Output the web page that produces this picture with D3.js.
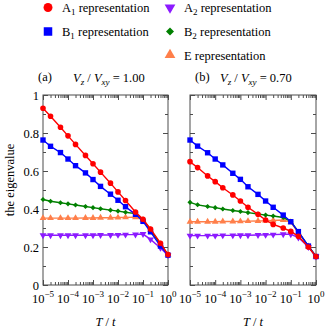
<!DOCTYPE html>
<html>
<head>
<meta charset="utf-8">
<script src="https://cdn.jsdelivr.net/npm/d3@7"></script>
<style>
  body { margin: 0; background: #fff; }
  svg text { font-family: "Liberation Serif", "Times New Roman", serif; }
</style>
</head>
<body>
<svg id="chart" width="327" height="333"></svg>
<script>
// temperatures T/t where the eigenvalues were computed
const temps = [1e-5, 2e-5, 5e-5, 1e-4, 2e-4, 5e-4, 1e-3, 2e-3, 5e-3, 1e-2, 2e-2, 5e-2, 1e-1, 2e-1, 5e-1, 1];

// panel (a), Vz/Vxy = 1.00
const a1A = [0.93, 0.888, 0.83, 0.785, 0.74, 0.682, 0.638, 0.594, 0.536, 0.49, 0.445, 0.384, 0.346, 0.295, 0.22, 0.16];
const b1A = [0.763, 0.73, 0.697, 0.663, 0.628, 0.59, 0.555, 0.519, 0.478, 0.446, 0.412, 0.372, 0.335, 0.28, 0.205, 0.157];
const a2A = [0.262, 0.262, 0.262, 0.262, 0.262, 0.262, 0.262, 0.263, 0.263, 0.264, 0.265, 0.266, 0.268, 0.24, 0.195, 0.156];
const b2A = [0.45, 0.441, 0.433, 0.427, 0.421, 0.413, 0.407, 0.401, 0.394, 0.389, 0.383, 0.376, 0.345, 0.29, 0.215, 0.16];
const eA  = [0.352, 0.352, 0.352, 0.352, 0.352, 0.353, 0.353, 0.354, 0.354, 0.355, 0.356, 0.357, 0.343, 0.29, 0.215, 0.16];

// panel (b), Vz/Vxy = 0.70
const a1B = [0.649, 0.618, 0.574, 0.544, 0.512, 0.474, 0.442, 0.409, 0.372, 0.342, 0.319, 0.3, 0.282, 0.256, 0.2, 0.15];
const b1B = [0.763, 0.731, 0.696, 0.663, 0.632, 0.588, 0.556, 0.517, 0.477, 0.442, 0.409, 0.368, 0.333, 0.281, 0.205, 0.15];
const a2B = [0.26, 0.26, 0.26, 0.26, 0.261, 0.261, 0.262, 0.262, 0.263, 0.264, 0.265, 0.267, 0.267, 0.25, 0.2, 0.15];
const b2B = [0.435, 0.422, 0.413, 0.407, 0.4, 0.392, 0.387, 0.381, 0.374, 0.368, 0.363, 0.355, 0.335, 0.28, 0.205, 0.15];
const eB  = [0.333, 0.333, 0.333, 0.333, 0.334, 0.334, 0.335, 0.336, 0.337, 0.338, 0.34, 0.342, 0.33, 0.275, 0.203, 0.15];

const yTicks = [0, 0.2, 0.4, 0.6, 0.8, 1];
const xDecades = [1e-5, 1e-4, 1e-3, 1e-2, 1e-1, 1];

// series styles (name, subscript, colour, marker)
const seriesDefs = [
    { key: "a1", name: "A", sub: "1", color: "#ff0000", shape: "circle" },
    { key: "b1", name: "B", sub: "1", color: "#0000ff", shape: "square" },
    { key: "a2", name: "A", sub: "2", color: "#8c1aff", shape: "down" },
    { key: "b2", name: "B", sub: "2", color: "#008000", shape: "diamond" },
    { key: "e",  name: "E", sub: "",  color: "#ff7f4a", shape: "up" }
];

const panels = [
    { label: "(a)", ratio: "1.00", x0: 43, x1: 168, data: { a1: a1A, b1: b1A, a2: a2A, b2: b2A, e: eA }, showY: true, labX: 38, ratX: 73 },
    { label: "(b)", ratio: "0.70", x0: 190, x1: 316, data: { a1: a1B, b1: b1B, a2: a2B, b2: b2B, e: eB }, showY: false, labX: 195, ratX: 220 }
];

const svg = d3.select("#chart");
const plotTop = 95, plotBottom = 285;
const frameColor = "#4d4d4d";

function markerPath(shape, big) {
    const k = big ? 2.5 : 1;
    switch (shape) {
        case "circle": return d3.symbol(d3.symbolCircle, 25 * k)();
        case "square": return d3.symbol(d3.symbolSquare, 29 * k)();
        case "diamond": return d3.symbol(d3.symbolSquare, 13 * k)();
        default: return d3.symbol(d3.symbolTriangle, 20 * k)();
    }
}
function markerRotate(shape) {
    if (shape === "diamond") return 45;
    if (shape === "down") return 180;
    return 0;
}

panels.forEach(p => {
    const x = d3.scaleLog().domain([1e-5, 1]).range([p.x0, p.x1]);
    const y = d3.scaleLinear().domain([0, 1]).range([plotBottom, plotTop]);
    const g = svg.append("g");

    // minor / major log ticks along top and bottom
    const minorX = x.ticks().filter(v => !xDecades.includes(v));
    const yMinor = [0.1, 0.3, 0.5, 0.7, 0.9];

    const axes = [
        { ax: d3.axisBottom(x).tickValues(xDecades).tickSize(-5), tr: `translate(0,${plotBottom})` },
        { ax: d3.axisBottom(x).tickValues(minorX).tickSize(-3), tr: `translate(0,${plotBottom})` },
        { ax: d3.axisTop(x).tickValues(xDecades).tickSize(-5), tr: `translate(0,${plotTop})` },
        { ax: d3.axisTop(x).tickValues(minorX).tickSize(-3), tr: `translate(0,${plotTop})` },
        { ax: d3.axisLeft(y).tickValues(yTicks).tickSize(-5), tr: `translate(${p.x0},0)` },
        { ax: d3.axisLeft(y).tickValues(yMinor).tickSize(-3), tr: `translate(${p.x0},0)` },
        { ax: d3.axisRight(y).tickValues(yTicks).tickSize(-5), tr: `translate(${p.x1},0)` },
        { ax: d3.axisRight(y).tickValues(yMinor).tickSize(-3), tr: `translate(${p.x1},0)` }
    ];
    axes.forEach(a => {
        const ag = g.append("g").attr("transform", a.tr).call(a.ax.tickFormat(""));
        ag.select(".domain").remove();
        ag.selectAll("line").attr("stroke", frameColor);
    });

    g.append("rect")
        .attr("x", p.x0).attr("y", plotTop)
        .attr("width", p.x1 - p.x0).attr("height", plotBottom - plotTop)
        .attr("fill", "none").attr("stroke", frameColor).attr("stroke-width", 1);

    // y labels
    if (p.showY) {
        g.selectAll(".ylab").data(yTicks).enter().append("text")
            .attr("x", p.x0 - 4).attr("y", d => y(d) + 4.5)
            .attr("text-anchor", "end").attr("font-size", 12.5)
            .text(d => d === 0 ? "0" : d === 1 ? "1" : d3.format(".1f")(d));
    }

    // x labels 10^n
    xDecades.forEach(v => {
        const t = g.append("text")
            .attr("x", x(v)).attr("y", 303)
            .attr("text-anchor", "middle").attr("font-size", 12.5);
        t.append("tspan").text("10");
        t.append("tspan").attr("dy", -6).attr("font-size", 9)
            .text(Math.round(Math.log10(v)) === 0 ? "0" : "\u2212" + (-Math.round(Math.log10(v))));
    });

    // x axis title
    const xt = g.append("text").attr("x", (p.x0 + p.x1) / 2).attr("y", 326)
        .attr("text-anchor", "middle").attr("font-size", 12.5);
    xt.append("tspan").attr("font-style", "italic").text("T");
    xt.append("tspan").text(" / ");
    xt.append("tspan").attr("font-style", "italic").text("t");

    // panel labels
    g.append("text").attr("x", p.labX).attr("y", 81).attr("font-size", 12.5).text(p.label);
    const rt = g.append("text").attr("x", p.ratX).attr("y", 82).attr("font-size", 12.5);
    rt.append("tspan").attr("font-style", "italic").text("V");
    rt.append("tspan").attr("font-style", "italic").attr("font-size", 9).attr("dy", 3).text("z");
    rt.append("tspan").attr("dy", -3).text(" / ");
    rt.append("tspan").attr("font-style", "italic").text("V");
    rt.append("tspan").attr("font-style", "italic").attr("font-size", 9).attr("dy", 3).text("xy");
    rt.append("tspan").attr("dy", -3).text(" = " + p.ratio);

    // series, drawn so that A1 ends on top
    const line = d3.line().x((d, i) => x(temps[i])).y(d => y(d));
    ["a2", "e", "b2", "b1", "a1"].forEach(key => {
        const s = seriesDefs.find(d => d.key === key);
        const vals = p.data[key];
        g.append("path").datum(vals)
            .attr("d", line).attr("fill", "none")
            .attr("stroke", s.color).attr("stroke-width", 1.4);
        g.selectAll(".m-" + key).data(vals).enter().append("path")
            .attr("class", "m-" + key)
            .attr("d", markerPath(s.shape, false))
            .attr("transform", (d, i) => `translate(${x(temps[i])},${y(d)}) rotate(${markerRotate(s.shape)})`)
            .attr("fill", s.color);
    });
});

// y axis title
svg.append("text")
    .attr("transform", "translate(14,180) rotate(-90)")
    .attr("text-anchor", "middle").attr("font-size", 12.5)
    .text("the eigenvalue");

// legend
const legendPos = {
    a1: [48, 7.5], b1: [48, 31.5], a2: [170, 7.5], b2: [170, 31.5], e: [170, 55]
};
seriesDefs.forEach(s => {
    const [lx, ly] = legendPos[s.key];
    svg.append("path")
        .attr("d", markerPath(s.shape, true))
        .attr("transform", `translate(${lx},${ly}) rotate(${markerRotate(s.shape)})`)
        .attr("fill", s.color);
    const t = svg.append("text").attr("x", lx + 14).attr("y", ly + 4.5).attr("font-size", 12.5);
    t.append("tspan").text(s.name);
    if (s.sub) {
        t.append("tspan").attr("font-size", 9).attr("dy", 3).text(s.sub);
        t.append("tspan").attr("dy", -3).text(" representation");
    } else {
        t.append("tspan").text(" representation");
    }
});
</script>
</body>
</html>
